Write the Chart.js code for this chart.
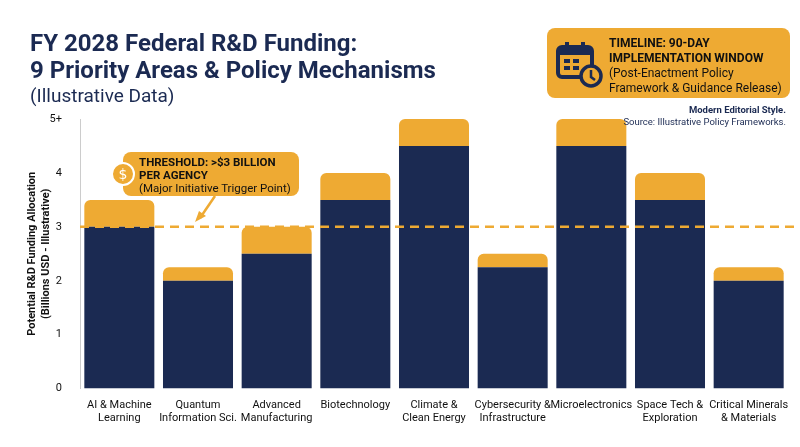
<!DOCTYPE html>
<html>
<head>
<meta charset="utf-8">
<script src="https://cdn.jsdelivr.net/npm/chart.js@4"></script>
<style>
  body { margin: 0; background: #fff; font-family: Roboto, "Noto Sans", sans-serif; }
  #wrap { position: relative; width: 800px; height: 447px; overflow: hidden; }
  #title { position: absolute; left: 30px; top: 30px; color: #1b2a52; }
  #title .t { font-size: 24px; font-weight: bold; line-height: 27px; }
  #title .s { font-size: 19px; line-height: 24px; color: #1b2a52; }
  .box { position: absolute; background: #eeaa33; border-radius: 8px; color: #111; }
  #timeline { left: 547px; top: 28px; width: 243px; height: 70px; }
  #timeline .txt { position: absolute; left: 62px; top: 8px; font-size: 12px; line-height: 15px; }
  #thresh { left: 123px; top: 152px; width: 176px; height: 44px; }
  #thresh .txt { position: absolute; left: 16px; top: 4px; font-size: 11.5px; line-height: 13px; }
  b { font-weight: bold; }
  #src { position: absolute; right: 14px; top: 104px; text-align: right; font-size: 9.5px; line-height: 12px; color: #1b2a52; }
  canvas { position: absolute; left: 0; top: 0; }
</style>
</head>
<body>
<div id="wrap">
  <canvas id="chart" width="800" height="447"></canvas>
  <div id="title">
    <div class="t">FY 2028 Federal R&amp;D Funding:</div>
    <div class="t">9 Priority Areas &amp; Policy Mechanisms</div>
    <div class="s">(Illustrative Data)</div>
  </div>
  <div class="box" id="timeline">
    <svg width="50" height="50" style="position:absolute;left:8px;top:12px" viewBox="0 0 50 50">
      <rect x="3" y="7" width="34" height="30" rx="4" fill="none" stroke="#1b2a52" stroke-width="4"/>
      <rect x="3" y="7" width="34" height="8" fill="#1b2a52"/>
      <rect x="10" y="2" width="4" height="9" fill="#1b2a52"/><rect x="26" y="2" width="4" height="9" fill="#1b2a52"/>
      <rect x="9" y="19" width="6" height="4" fill="#1b2a52"/><rect x="18" y="19" width="6" height="4" fill="#1b2a52"/>
      <rect x="9" y="26" width="6" height="4" fill="#1b2a52"/><rect x="18" y="26" width="6" height="4" fill="#1b2a52"/>
      <circle cx="36" cy="36" r="10" fill="#eeaa33" stroke="#1b2a52" stroke-width="3.5"/>
      <path d="M36 30 V37 L40 40" stroke="#1b2a52" stroke-width="2.5" fill="none"/>
    </svg>
    <div class="txt"><b>TIMELINE: 90-DAY<br>IMPLEMENTATION WINDOW</b><br>(Post-Enactment Policy<br>Framework &amp; Guidance Release)</div>
  </div>
  <div class="box" id="thresh">
    <svg width="24" height="24" style="position:absolute;left:-12px;top:10px" viewBox="0 0 24 24">
      <circle cx="12" cy="12" r="11" fill="#eeaa33" stroke="#fff" stroke-width="2"/>
      <text x="12" y="17" text-anchor="middle" font-size="14" fill="#fff" font-family="DejaVu Sans">$</text>
    </svg>
    <div class="txt"><b>THRESHOLD: &gt;$3 BILLION<br>PER AGENCY</b><br>(Major Initiative Trigger Point)</div>
  </div>
  <svg width="800" height="447" style="position:absolute;left:0;top:0;pointer-events:none">
    <line x1="215" y1="196" x2="200" y2="218" stroke="#eeaa33" stroke-width="2.5"/>
    <path d="M195 222 L199 211 L206 216 Z" fill="#eeaa33"/>
  </svg>
  <div id="src"><b>Modern Editorial Style.</b><br>Source: Illustrative Policy Frameworks.</div>
</div>
<script>
const categories = [["AI & Machine", "Learning"], ["Quantum", "Information Sci."], ["Advanced", "Manufacturing"], ["Biotechnology"], ["Climate &", "Clean Energy"], ["Cybersecurity &", "Infrastructure"], ["Microelectronics"], ["Space Tech &", "Exploration"], ["Critical Minerals", "& Materials"]];
const baseValues = [3, 2, 2.5, 3.5, 4.5, 2.25, 4.5, 3.5, 2];
const topValues = [0.5, 0.25, 0.5, 0.5, 0.5, 0.25, 0.5, 0.5, 0.25];
const tickLabels = ["0", "1", "2", "3", "4", "5+"];
const threshold = 3;

const navy = "#1b2a52";
const orange = "#eeaa33";

const thresholdLine = {
  id: "thresholdLine",
  afterDatasetsDraw(c) {
    const y = c.scales.y.getPixelForValue(threshold);
    const ctx = c.ctx;
    ctx.save();
    ctx.strokeStyle = orange;
    ctx.lineWidth = 2.5;
    ctx.setLineDash([9, 6]);
    ctx.beginPath();
    ctx.moveTo(c.chartArea.left, y);
    ctx.lineTo(800, y);
    ctx.stroke();
    ctx.restore();
  }
};

new Chart(document.getElementById("chart"), {
  type: "bar",
  data: {
    labels: categories,
    datasets: [
      { data: baseValues, backgroundColor: navy, borderRadius: 0 },
      { data: topValues, backgroundColor: orange, borderRadius: { topLeft: 6, topRight: 6 }, borderSkipped: false }
    ]
  },
  options: {
    responsive: false,
    animation: false,
    layout: { padding: { top: 119, left: 26, right: 12, bottom: 20 } },
    plugins: { legend: { display: false }, tooltip: { enabled: false } },
    datasets: { bar: { barPercentage: 0.89, categoryPercentage: 1 } },
    scales: {
      x: {
        stacked: true,
        grid: { display: false },
        border: { display: false },
        ticks: { color: "#111", font: { family: "Roboto", size: 11 }, maxRotation: 0, autoSkip: false, padding: 2 }
      },
      y: {
        stacked: true,
        min: 0, max: 5,
        afterFit: (s) => { s.width = 54; },
        grid: { display: false },
        border: { display: true, color: "#ccc" },
        ticks: { stepSize: 1, color: "#111", font: { family: "Roboto", size: 11 }, padding: 10,
          callback: (v) => tickLabels[v] },
        title: { display: true, text: ["Potential R&D Funding Allocation", "(Billions USD - Illustrative)"],
          color: "#111", font: { family: "Roboto", size: 11, weight: "bold" }, padding: 0 }
      }
    }
  },
  plugins: [thresholdLine]
});
</script>
</body>
</html>
